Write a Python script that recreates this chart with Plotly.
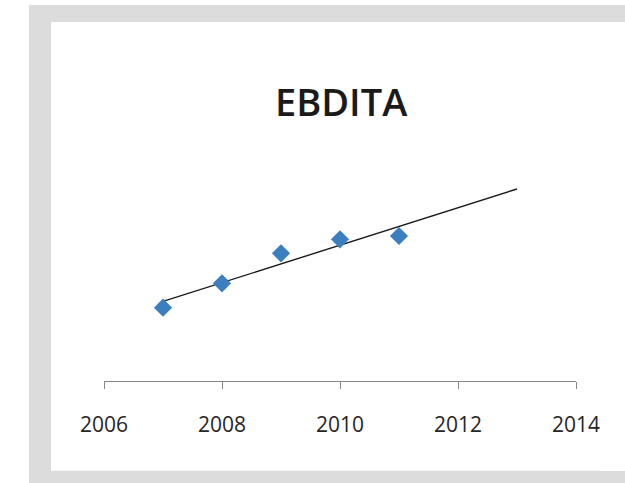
import numpy as np
import plotly.graph_objects as go

# EBDITA by year
years = [2007, 2008, 2009, 2010, 2011]
ebdita = [733, 977, 1277, 1417, 1450]
tick_years = [2006, 2008, 2010, 2012, 2014]
title_text = "EBDITA"

# linear trendline, extended two periods forward
coef = np.polyfit(years, ebdita, 1)
trend_x = [years[0], years[-1] + 2]
trend_y = list(np.polyval(coef, trend_x))

W, H = 625, 483
L, R, T, B = 104, 49, 181, 102
plot_w = W - L - R
plot_h = H - T - B


def px(x):
    return (x - L) / plot_w


def py(y):
    return (H - B - y) / plot_h


fig = go.Figure()
fig.add_trace(go.Scatter(
    x=trend_x, y=trend_y, mode="lines",
    line=dict(color="#1a1a1a", width=1.4),
    hoverinfo="skip", showlegend=False,
))
fig.add_trace(go.Scatter(
    x=years, y=ebdita, mode="markers",
    marker=dict(symbol="diamond", size=14, color="#3c7fbf",
                line=dict(width=0)),
    showlegend=False,
))

# grey frame around the chart panel: top, left and bottom bands
frame = "#dcdcdc"
for (x0, x1, y0, y1) in [(29, W, 5, 22), (29, 51, 5, H), (29, W, 470.7, H)]:
    fig.add_shape(type="rect", xref="paper", yref="paper", layer="below",
                  x0=px(x0), x1=px(x1), y0=py(y0), y1=py(y1),
                  fillcolor=frame, line=dict(width=0))
# white panel running off the right edge
fig.add_shape(type="rect", xref="paper", yref="paper", layer="above",
              x0=px(600), x1=px(W), y0=py(22), y1=py(470.7),
              fillcolor="#ffffff", line=dict(width=0))

fig.add_annotation(
    text=title_text, xref="paper", yref="paper",
    x=px(341), y=py(101), xanchor="center", yanchor="middle",
    showarrow=False,
    font=dict(family="Open Sans", size=38, color="#1a1a1a", weight=600),
)

fig.update_layout(
    width=W, height=H,
    margin=dict(l=L, r=R, t=T, b=B, pad=0),
    paper_bgcolor="#ffffff",
    plot_bgcolor="rgba(0,0,0,0)",
    showlegend=False,
    xaxis=dict(
        range=[2006, 2014],
        tickvals=tick_years,
        ticktext=[str(t) for t in tick_years],
        showgrid=False, zeroline=False,
        showline=True, linecolor="#868686", linewidth=1.3,
        ticks="outside", ticklen=7, tickwidth=1.3, tickcolor="#868686",
        ticklabelstandoff=18,
        tickfont=dict(family="Open Sans", size=21, color="#262626"),
    ),
    yaxis=dict(
        range=[0, 2000],
        visible=False,
    ),
)

fig.write_html(
    "out.html",
    config={"displayModeBar": False},
    post_script=(
        "document.documentElement.style.overflow='hidden';"
        "document.body.style.margin='0';"
        "document.body.style.overflow='hidden';"
    ),
)
